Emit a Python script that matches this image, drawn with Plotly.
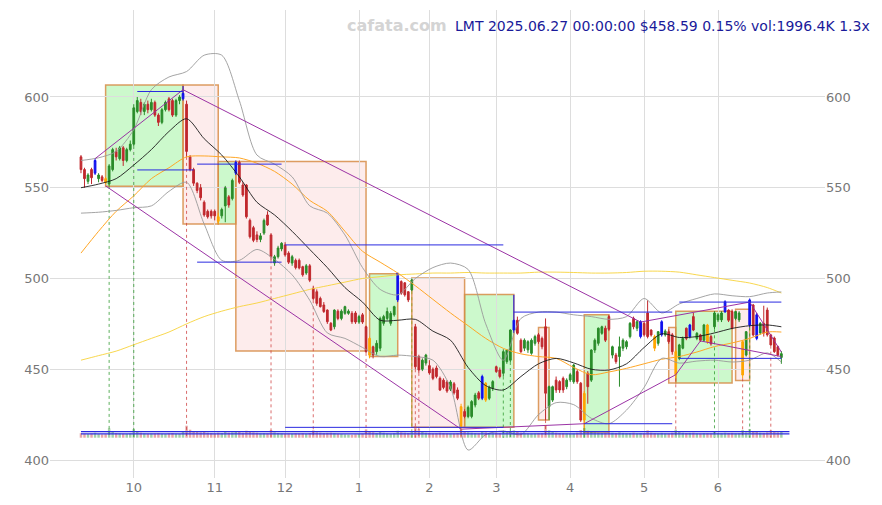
import plotly.graph_objects as go
import pandas as pd

# ---------------- data ----------------
HOLIDAYS = ["2024-11-28", "2024-12-25", "2025-01-01", "2025-01-09", "2025-01-20",
            "2025-02-17", "2025-04-18", "2025-05-26", "2025-06-19"]
DATES = [d.strftime("%Y-%m-%d") for d in
         pd.bdate_range("2024-09-10", "2025-06-27", freq="C", holidays=HOLIDAYS)]

MONTH_TICKS = ["2024-10-01", "2024-11-01", "2024-12-02", "2025-01-02", "2025-02-03",
               "2025-03-03", "2025-04-01", "2025-05-01", "2025-06-02"]
MONTH_LABELS = ["10", "11", "12", "1", "2", "3", "4", "5", "6"]

OPEN = [567, 560, 553.5, 560, 558, 555, 556, 555, 552, 560,
        570, 566, 572, 565, 571, 574, 592, 597, 592, 596,
        593, 597, 590, 586, 593, 599, 598, 590, 598, 599,
        596, 567, 560, 552.5, 550, 542, 537, 537, 537, 534,
        534.5, 540, 545, 544, 558, 564, 551.5, 551.5, 532, 528,
        524, 521.5, 525, 535, 524, 508.5, 512, 516.3, 518.5, 514,
        508.5, 510, 510, 506.5, 503, 507, 494.6, 492.7, 489, 485.4,
        482.6, 475.3, 473.4, 482, 478, 480.8, 480.8, 480.8, 481, 476,
        480, 473.4, 467, 462.4, 459.7, 461.6, 475.3, 478, 475.3, 480,
        488.2, 498.3, 497.6, 492.7, 493.7, 473.4, 457, 450, 453.4, 452,
        450, 450.7, 445, 444, 443, 439, 442, 438.6, 429.4, 426.7,
        424, 424, 430.3, 437, 434, 442.3, 434, 439.5, 451.4, 449.6,
        447.8, 454.2, 455, 471.6, 477, 466, 461.6, 460.7, 458.8, 464.3,
        469, 467, 473.4, 429.4, 433, 444, 443.2, 445, 440.4, 444.1,
        443.1, 448.7, 442.3, 422, 447.8, 444, 460.6, 464.3, 469.8, 472.6,
        479, 457.8, 457.8, 457, 461.6, 462.4, 468, 478, 472.6, 468,
        475.3, 481, 471.6, 468, 464.3, 469, 469, 470.7, 469, 447,
        456, 461.6, 472.6, 468, 479, 467, 468.9, 466, 474.4, 468,
        473.4, 477.2, 477.2, 481.7, 482.6, 481.8, 478, 477.2, 446.8, 457.8,
        474.4, 485.4, 480, 470, 475.3, 482.6, 468.9, 467.2, 462.4, 456.5]
HIGH = [568, 561, 558, 561, 566, 558, 557, 556, 563, 572,
        572, 573, 573, 572, 576, 596, 600, 599, 597, 598,
        599, 598, 591, 594, 598, 600, 599, 599, 601, 606,
        598, 568, 561, 553, 552, 543, 538, 538, 538, 536,
        539, 551, 546, 555, 565, 565, 553, 552, 533, 529,
        526, 525, 533, 537, 525, 513, 518, 520, 520, 515,
        513, 511, 511, 507, 508, 508, 496, 494, 490, 487,
        483, 476, 483, 483, 483, 485, 483, 482, 482, 480,
        481, 474, 468, 463, 466, 479, 480, 484, 482, 485,
        503, 499, 498, 493, 500, 475, 458, 456, 458.5, 455,
        451, 452, 446, 445, 444, 444, 443, 440, 431, 428,
        430, 433, 437, 438, 447, 443, 441, 444, 452, 451,
        461, 461, 472, 491, 479, 467, 467, 466, 467, 469,
        470, 468, 478, 441, 441, 446, 444, 446, 445, 448,
        453, 450, 443, 438, 449, 461, 467, 473, 474, 474,
        480, 463, 459, 468, 467, 466, 476, 479, 477, 477,
        476, 488, 472, 469, 471, 477, 472, 472, 470, 461,
        464, 468, 473, 475, 481, 470.5, 469.5, 475, 475, 469,
        482, 481, 482, 488, 483, 483, 482, 482, 466, 471,
        489, 486, 481, 476, 485, 484, 469.5, 468, 463, 460]
LOW = [558, 550, 552, 552, 557, 553, 553, 552, 551, 559,
       565, 565, 562, 564, 570, 573, 591, 590, 590, 591,
       592, 589, 584, 585, 592, 592, 589, 589, 596, 598,
       567, 559, 551, 547, 543, 534, 533, 533, 532, 530,
       533, 531, 539, 543, 557, 552, 545, 533, 522, 520,
       520, 520, 524, 529, 510, 507, 511, 515, 512, 508,
       507, 505, 505, 501, 502, 498, 488, 485, 484, 481,
       475, 471, 472, 477, 477, 480, 480, 475, 475, 475,
       475, 459, 456, 456, 458, 460, 474, 477, 474, 479,
       487, 491, 490, 487, 493, 450, 448, 449, 452, 447,
       444, 445, 438, 439, 437, 438, 436, 433, 413, 423,
       423, 423, 429, 433, 433, 432, 433, 438, 448, 445,
       446, 453, 454, 470, 469, 459, 460, 459, 458, 463,
       464, 461, 422, 422, 432, 437, 437, 437, 439, 443,
       442, 442, 421, 414, 431, 443, 459, 463, 469, 465,
       471, 456, 453, 440.4, 460, 461, 467, 472, 471, 467,
       468, 467, 468, 460, 463, 468, 468, 464, 458, 445,
       455, 461, 466, 467, 471, 466, 465, 465, 464, 463,
       472, 476, 476, 481, 476, 472, 477, 476, 445, 457,
       473, 468, 466, 469, 468, 468, 463, 459, 457, 453]
CLOSE = [560, 555, 557, 555.5, 565, 557, 554, 553, 562, 571,
         567, 572, 565, 571, 574, 594, 598, 592, 596, 593,
         597, 590, 586, 593, 597, 593, 590, 598, 600, 602,
         570, 560, 552.5, 548.5, 544.5, 535, 534, 534.5, 534.5, 531.5,
         538, 550, 540.5, 554, 564, 553, 546, 534, 523, 521,
         521.5, 523.5, 532, 529.5, 512, 512, 516.8, 519.4, 513, 509,
         512, 506, 505.8, 502, 507, 499, 489, 486.3, 484.5, 481.8,
         476.2, 471.6, 482.6, 478, 482, 484.5, 482, 476.2, 476, 479,
         476, 459.7, 457.8, 457.8, 464.3, 478, 479, 481.8, 480.8, 484.5,
         502.9, 491.9, 491, 488.2, 499.2, 451.4, 449.6, 455, 457.8, 448,
         445, 446, 438.6, 440, 438, 443, 437, 434, 418.4, 424,
         429, 432.2, 435.8, 434, 446, 433, 440, 443.2, 448.7, 446,
         459.7, 460.6, 471.6, 477, 469.8, 459.7, 466, 465.2, 466, 468,
         465.2, 462.4, 436.8, 440.4, 440.4, 438.6, 438.6, 438.6, 444, 447,
         452.3, 443.2, 422, 436.7, 440.4, 460.6, 466, 472.6, 473.4, 466,
         472, 462.4, 454.2, 462.4, 466, 465.2, 475.3, 473.4, 476.2, 476.2,
         469, 468, 468.9, 461.6, 470.7, 476.2, 471, 465.2, 459.7, 459.7,
         463.4, 467, 467, 474.4, 471.6, 469.8, 466, 474.4, 465.2, 464,
         481, 480, 481, 487.2, 477, 472.6, 481.8, 481, 465.2, 470.7,
         488.2, 468.9, 467, 475.3, 470, 469, 463.4, 459.7, 457.8, 458.59]
VOLUME_K = [1350, 1200, 1100, 1250, 1500, 1100, 1000, 1050, 2800, 1900,
            1400, 1300, 1200, 1150, 1250, 2600, 2000, 1500, 1300, 1200,
            1250, 1300, 1400, 1200, 1100, 1300, 1400, 1200, 1150, 1800,
            3600, 2400, 1900, 1700, 1600, 1800, 1500, 1400, 1300, 1500,
            1400, 1800, 1500, 1600, 2000, 1700, 1500, 2100, 1900, 1600,
            1500, 1300, 1400, 1300, 2300, 1600, 1400, 1300, 1200, 1250,
            1200, 1300, 1250, 1350, 1200, 1400, 2200, 1600, 1500, 1400,
            1450, 1500, 1400, 1200, 1100, 1000, 950, 900, 1000, 1100,
            1200, 2500, 1900, 1600, 1400, 1700, 1500, 1300, 1200, 1400,
            2100, 1600, 1500, 1400, 1700, 3400, 2600, 1800, 1500, 1400,
            1300, 1350, 1500, 1400, 1300, 1250, 1300, 1400, 2400, 1800,
            1600, 1500, 1400, 1300, 1700, 1600, 1400, 1300, 1500, 1400,
            2000, 1700, 1900, 2200, 1800, 1500, 1400, 1300, 1250, 1300,
            1350, 1400, 3800, 2200, 1700, 1500, 1400, 1350, 1300, 1250,
            1300, 1500, 2300, 2900, 2100, 1800, 1600, 1500, 1400, 1450,
            1600, 1500, 1400, 1600, 1450, 1350, 1400, 1500, 1300, 1400,
            1350, 2200, 1500, 1400, 1300, 1450, 1300, 1250, 1500, 2400,
            1700, 1500, 1400, 1450, 1500, 1300, 1250, 1400, 1350, 1300,
            1800, 1400, 1350, 1500, 1400, 1450, 1300, 1350, 2300, 1600,
            2600, 1900, 1700, 1500, 1450, 1600, 2200, 1700, 1600, 1996.4]

BLUE_BARS = [4, 29, 44, 90, 114, 123, 159, 165, 173, 183, 190, 192]
ORANGE_BARS = [7, 39, 82, 108, 115, 143, 163, 169, 178, 188]

# indicator lines sampled every 5 trading days (day index, value)
MA_IDX = [0, 5, 10, 15, 20, 25, 30, 35, 40, 45, 50, 55, 60, 65, 70, 75, 80, 85, 90, 95,
          100, 105, 110, 115, 120, 125, 130, 135, 140, 145, 150, 155, 160, 165, 170, 175,
          180, 185, 190, 195, 199]
MA_SHORT = [550, 552, 555, 562.5, 571, 581, 588, 577, 568, 556, 542, 535, 526, 516, 506,
            495, 487, 477, 477, 477.5, 471, 466, 451, 441, 438.6, 446, 453, 456, 453.5,
            450, 449.6, 453, 462, 469.5, 467.5, 468, 470, 472.5, 474, 474.4, 473.4]
BAND_UP = [565, 566.5, 570, 582, 604, 611, 614, 623, 623, 598, 568, 563, 556, 540, 536,
           524, 506, 494, 491, 500, 506, 508.5, 505, 475, 455, 478, 481.5, 481.5, 480,
           479, 477.5, 479, 489, 481, 486, 489, 491.5, 490.5, 490, 492, 492.6]
BAND_LOW = [536, 536.5, 537.5, 539, 540, 548, 553, 530, 510, 510, 516, 510.5, 502, 488,
            470, 467, 462, 457, 457.8, 457, 455, 440, 405.5, 414, 416, 414, 425, 431.6,
            430.5, 423, 420, 427.5, 440, 456, 453.4, 454.5, 455, 454, 455, 459, 454]
MA_MID = [514, 526, 537, 545.5, 555, 561, 567, 567.5, 567, 566.4, 563.5, 559, 552, 543,
          537, 526, 515, 509, 503, 496, 488.5, 481, 474, 467, 461.5, 458.5, 457, 456,
          451, 447, 448.5, 450.5, 453, 455.5, 457, 459.5, 462.5, 464.5, 467, 470.5, 470.5]
MA_LONG = [455, 457.5, 460, 463.5, 467, 470.5, 475, 479, 482, 484.5, 486.5, 489, 491.5,
           494, 496, 498, 500, 501, 502, 502.5, 503, 503, 503.3, 503, 503, 503, 503.5,
           503.5, 503.3, 503, 503, 503.3, 504, 504, 503.5, 502, 500.5, 499, 497.5, 495, 492]

# trend boxes: (first day index, last day index, low, high, kind)
BOXES = [(7, 29, 550.8, 606.6, "up"), (29, 39, 530, 606.6, "down"),
         (39, 44, 530, 564.5, "up"), (44, 81, 460, 564.5, "down"),
         (82, 90, 457, 502.6, "up"), (94, 109, 418, 500.3, "down"),
         (109, 123, 418, 491.2, "up"), (130, 133, 422, 473, "down"),
         (143, 150, 415.5, 480, "up"), (167, 169, 442.5, 473, "down"),
         (169, 185, 442.5, 482, "up"), (186, 190, 443.8, 483, "down")]

# trend lines: lists of (day index, price)
TREND_LINES = [[(4, 566), (29, 604)],
               [(29, 604), (159, 476), (190, 487), (199, 459.5)],
               [(7, 551), (108, 417), (143, 420), (169, 447), (176, 465.6), (199, 457)]]

# support / resistance levels: (from day, to day, price)
LEVELS = [(16, 29, 603), (16, 32, 559.8), (33, 57, 563), (33, 57, 509),
          (58, 120, 518.5), (58, 120, 418), (123, 168, 481.5), (143, 168, 420),
          (170, 199, 487), (170, 199, 456)]
BASE_LEVELS = [415.6, 414.4]

SIGNALS_UP = [8, 15, 120, 122, 143, 180, 190]
SIGNALS_DOWN = [30, 54, 66, 81, 95, 96, 132, 169, 188, 196]
SIGNALS_MID = [94]

TITLE = "LMT 2025.06.27 00:00:00 $458.59 0.15% vol:1996.4K 1.3x"

# ---------------- figure ----------------
RED = "#c0282d"
GREEN = "#2a8c2a"
FONT = "DejaVu Sans"
N = len(DATES)
special = set(BLUE_BARS) | set(ORANGE_BARS)
normal = [i for i in range(N) if i not in special]

fig = go.Figure()

# volume bars (own hidden axis)
vol_colors = ["rgba(60,150,60,0.45)" if CLOSE[i] >= OPEN[i] else "rgba(200,60,60,0.45)"
              for i in range(N)]
fig.add_trace(go.Bar(x=DATES, y=VOLUME_K, marker=dict(color=vol_colors, line=dict(width=0)),
                     yaxis="y3", showlegend=False, hoverinfo="skip"))

# signal dotted lines
def add_signals(idxs, color):
    xs, ys = [], []
    for i in idxs:
        xs += [DATES[i], DATES[i], None]
        ys += [LOW[i], 412.3, None]
    fig.add_trace(go.Scatter(x=xs, y=ys, mode="lines", showlegend=False, hoverinfo="skip",
                             line=dict(color=color, width=1, dash="dot")))

add_signals(SIGNALS_UP, "rgba(40,150,40,0.75)")
add_signals(SIGNALS_DOWN, "rgba(205,60,60,0.75)")
add_signals(SIGNALS_MID, "rgba(150,160,40,0.8)")

# indicator lines
ma_x = [DATES[i] for i in MA_IDX]
for vals, color, w in [(MA_LONG, "#f7d23a", 0.9), (MA_MID, "#ffa726", 1.0),
                       (BAND_UP, "#9a9a9a", 0.9), (BAND_LOW, "#9a9a9a", 0.9),
                       (MA_SHORT, "#1a1a1a", 0.9)]:
    fig.add_trace(go.Scatter(x=ma_x, y=vals, mode="lines", showlegend=False, hoverinfo="skip",
                             line=dict(color=color, width=w, shape="spline", smoothing=0.8)))

# trend lines
for pts in TREND_LINES:
    fig.add_trace(go.Scatter(x=[DATES[i] for i, _ in pts], y=[p for _, p in pts], mode="lines",
                             showlegend=False, hoverinfo="skip",
                             line=dict(color="rgba(150,40,160,0.95)", width=1)))

# levels
for a, b, p in LEVELS:
    fig.add_trace(go.Scatter(x=[DATES[a], DATES[b]], y=[p, p], mode="lines", showlegend=False,
                             hoverinfo="skip", line=dict(color="#2a2ae0", width=1)))

# candles
def add_candles(idxs, inc, dec):
    fig.add_trace(go.Candlestick(
        x=[DATES[i] for i in idxs], open=[OPEN[i] for i in idxs], high=[HIGH[i] for i in idxs],
        low=[LOW[i] for i in idxs], close=[CLOSE[i] for i in idxs],
        increasing=dict(line=dict(color=inc, width=1), fillcolor=inc),
        decreasing=dict(line=dict(color=dec, width=1), fillcolor=dec),
        whiskerwidth=0, showlegend=False, hoverinfo="skip"))

add_candles(normal, GREEN, RED)
add_candles(BLUE_BARS, "#1010ee", "#1010ee")
add_candles(ORANGE_BARS, "#ffa500", "#ffa500")

# invisible trace for right axis
fig.add_trace(go.Scatter(x=[DATES[0]], y=[500], yaxis="y2", mode="markers",
                         marker=dict(opacity=0), showlegend=False, hoverinfo="skip"))

shapes = []
for a, b, lo, hi, kind in BOXES:
    fill = "rgba(50,230,50,0.25)" if kind == "up" else "rgba(240,100,100,0.12)"
    shapes.append(dict(type="rect", xref="x", yref="y", x0=DATES[a], x1=DATES[b], y0=lo, y1=hi,
                       fillcolor=fill, line=dict(color="rgba(215,140,70,0.85)", width=1.5),
                       layer="below"))
for p in BASE_LEVELS:
    shapes.append(dict(type="line", xref="x", yref="y", x0=0, x1=N + 1.3, y0=p, y1=p,
                       line=dict(color="#2a2ae0", width=1.2)))

l, r, t, b = 50, 57, 10, 27
W, H = 882, 505
pw = W - l - r
ph = H - t - b
fig.update_layout(
    width=W, height=H, margin=dict(l=l, r=r, t=t, b=b),
    paper_bgcolor="white", plot_bgcolor="white",
    font=dict(family=FONT, size=13, color="#777777"),
    showlegend=False, shapes=shapes, bargap=0.3,
    xaxis=dict(type="category", range=[-8.8, 211.4], tickvals=MONTH_TICKS, ticktext=MONTH_LABELS,
               showgrid=True, gridcolor="#dddddd", gridwidth=1, zeroline=False, showline=False,
               ticks="", rangeslider=dict(visible=False), tickfont=dict(size=13, color="#777777")),
    yaxis=dict(range=[390.1, 647.9], tickvals=[400, 450, 500, 550, 600], showgrid=True,
               gridcolor="#dddddd", zeroline=False, showline=False, ticks="",
               tickfont=dict(size=13, color="#777777")),
    yaxis2=dict(overlaying="y", side="right", matches="y", tickvals=[400, 450, 500, 550, 600],
                showgrid=False, zeroline=False, showline=False, ticks="",
                tickfont=dict(size=13, color="#777777")),
    yaxis3=dict(overlaying="y", range=[-12090, 128310], visible=False),
    annotations=[
        dict(text=TITLE, xref="paper", yref="paper", x=(872 - l) / pw, y=1 + (t - 26) / ph,
             xanchor="right", yanchor="middle", showarrow=False,
             font=dict(family=FONT, size=14, color="#1a1a9a")),
        dict(text="<b>cafata.com</b>", xref="paper", yref="paper", x=(397 - l) / pw,
             y=1 + (t - 26) / ph, xanchor="center", yanchor="middle", showarrow=False,
             font=dict(family=FONT, size=16, color="#d4d4d4")),
    ],
)

fig.write_html("out.html", config={"displayModeBar": False},
               post_script="document.body.style.margin='0';")
